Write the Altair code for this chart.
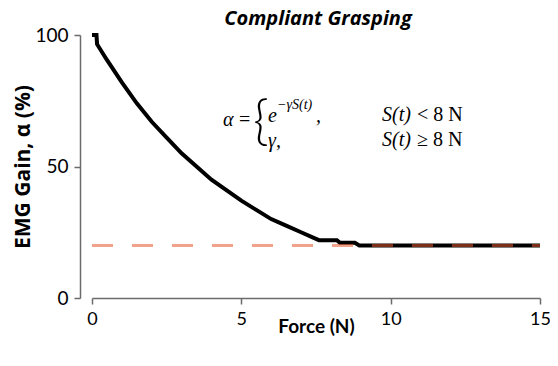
import altair as alt
import pandas as pd

# Readings from the reference
force = [0, 0.15, 0.17, 0.5, 1.0, 1.5, 2.0, 2.5, 3.0, 3.5, 4.0, 4.5, 5.0, 5.5,
         6.0, 6.5, 7.0, 7.5, 7.6, 8.2, 8.3, 8.8, 8.95, 15]
gain = [100, 100, 96.5, 90.5, 82, 74, 67, 61, 55, 50, 45, 41, 37, 33.5,
        30, 27.5, 25, 22.5, 22, 22, 21, 21, 20, 20]
floor_force = [0, 15]
floor_gain = [20, 20]
x_ticks = [0, 5, 10, 15]
y_ticks = [0, 50, 100]

curve = pd.DataFrame({"force": force, "gain": gain})
floor = pd.DataFrame({"force": floor_force, "gain": floor_gain})

LABEL_FONT = "Lato"
MATH_FONT = "Liberation Serif"

x_enc = alt.X("force:Q", scale=alt.Scale(domain=[0, 15], nice=False),
              axis=alt.Axis(values=x_ticks, title="Force (N)", grid=False, labelFlush=False,
                            domainColor="#6b6b6b", domainWidth=1.5,
                            tickColor="#6b6b6b", tickWidth=1.5, tickSize=6,
                            labelFont=LABEL_FONT, labelFontSize=18, labelColor="#000",
                            labelPadding=6, titleFont=LABEL_FONT, titleFontSize=19,
                            titleFontWeight="bold", titleColor="#000", titlePadding=-11))
y_enc = alt.Y("gain:Q", scale=alt.Scale(domain=[0, 100], nice=False),
              axis=alt.Axis(values=y_ticks, title="EMG Gain, α (%)", grid=False, offset=12,
                            labelFlush=False,
                            domainColor="#6b6b6b", domainWidth=1.5,
                            tickColor="#6b6b6b", tickWidth=1.5, tickSize=6,
                            labelFont=LABEL_FONT, labelFontSize=19, labelColor="#000",
                            labelPadding=6, titleFont="Open Sans", titleFontSize=21,
                            titleFontWeight="bold", titleColor="#000", titlePadding=1))

line = alt.Chart(curve).mark_line(color="black", strokeWidth=4).encode(x=x_enc, y=y_enc)
dash = alt.Chart(floor).mark_line(color="#E4582A", opacity=0.55, strokeWidth=3,
                                  strokeDash=[21, 19]).encode(x="force:Q", y="gain:Q")

def txt(s, px, py, size=19, italic=True, font=MATH_FONT, align="left",
        baseline="middle", weight="normal"):
    return alt.Chart(pd.DataFrame({"t": [s]})).mark_text(
        text=s, font=font, fontSize=size, fontStyle="italic" if italic else "normal",
        fontWeight=weight, align=align, baseline=baseline, color="black"
    ).encode(x=alt.value(px), y=alt.value(py))

formula = [
    txt("α", 131, 85, size=20),
    txt("=", 147, 85, size=20, italic=False),
    txt("{", 161, 88, size=54, italic=False, font="Lato", weight=300),
    txt("e", 176, 81, size=20),
    txt("−γS(t)", 185, 70, size=14),
    txt(",", 224, 81, size=20),
    txt("γ,", 176, 106, size=20),
    txt("S(t)", 290, 80, size=20),
    txt("< 8 N", 325, 80, size=20, italic=False),
    txt("S(t)", 290, 105, size=20),
    txt("≥ 8 N", 325, 105, size=20, italic=False),
]

title = txt("Compliant Grasping", 226, -10, size=20, font="Open Sans", align="center",
            baseline="alphabetic", weight="bold")

chart = alt.layer(line, dash, title, *formula).properties(
    width=448, height=263,
    autosize=alt.AutoSizeParams(type="none"),
    padding={"left": 84, "top": 27, "right": 10, "bottom": 50},
).configure_view(stroke=None)

chart.save("out.html", embed_options={"renderer": "svg", "actions": False})
